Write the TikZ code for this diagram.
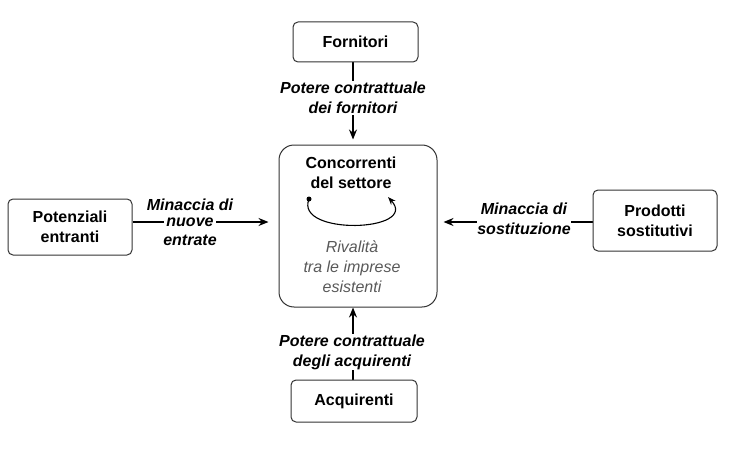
\documentclass[tikz,border=0pt]{standalone}
\usepackage{fontspec}
\setmainfont{Liberation Sans}
\usetikzlibrary{arrows.meta,backgrounds}
\begin{document}
\begin{tikzpicture}[x=1pt,y=-1pt,
  box/.style={draw=black!80, line width=1pt, rounded corners=5pt, align=center,
    font=\bfseries\fontsize{16}{20}\selectfont, inner sep=0pt},
  lbl/.style={align=center, font=\bfseries\itshape\fontsize{16}{20}\selectfont, inner sep=1pt},
  arr/.style={line width=1.4pt, -{Stealth[length=10pt,width=8pt]}},
  ln/.style={line width=1.4pt}]
\useasboundingbox (0,0) rectangle (742,452);
% boxes
\node[box, minimum width=125pt, minimum height=40pt] (forn) at (355.5,42) {Fornitori};
\node[box, rounded corners=15pt, minimum width=158pt, minimum height=162pt] (conc) at (358,226) {};
\node[box, minimum width=124pt, minimum height=56pt] (pot) at (70,227) {Potenziali\\entranti};
\node[box, minimum width=124pt, minimum height=61pt] (prod) at (655,220.5) {Prodotti\\sostitutivi};
\node[box, minimum width=126pt, minimum height=42pt] (acq) at (354,401) {Acquirenti};
% inner texts
\node[align=center, font=\bfseries\fontsize{16}{20}\selectfont, inner sep=0pt] (conct) at (351,173) {Concorrenti\\del settore};
\node[align=center, font=\itshape\fontsize{16}{20}\selectfont, text=black!65, inner sep=0pt] (riv) at (352,267) {Rivalità\\tra le imprese\\esistenti};
\coordinate (ls) at (309,199);
\coordinate (le) at (388,197);
\fill (ls) circle (2.5pt);
\draw[line width=1.1pt, -{Stealth[length=8pt,width=6pt]}] (ls) .. controls (294,236) and (420,232) .. (le);
% edge labels
\node[lbl, fill=white] (l1) at (353,98) {Potere contrattuale\\dei fornitori};
\node[lbl] (l2a) at (190,205) {Minaccia di};
\node[lbl, fill=white, inner sep=2pt] (l2b) at (190,222) {nuove};
\node[lbl] (l2c) at (190,240) {entrate};
\node[lbl, fill=white, inner sep=0pt] (l3) at (524,219) {Minaccia di\\sostituzione};
\node[lbl, fill=white] (l4) at (352,352) {Potere contrattuale\\degli acquirenti};
% connectors
\begin{scope}[on background layer]
\draw[arr, shorten >=5pt] (forn.south -| 353,0) -- (conc.north -| 353,0);
\draw[arr, shorten >=10pt] (pot.east |- l2b) -- (conc.west |- l2b);
\draw[arr, shorten >=6pt] (prod.west |- l2b) -- (conc.east |- l2b);
\draw[arr] (acq.north -| 353,0) -- (conc.south -| 353,0);
\end{scope}
\end{tikzpicture}
\end{document}
